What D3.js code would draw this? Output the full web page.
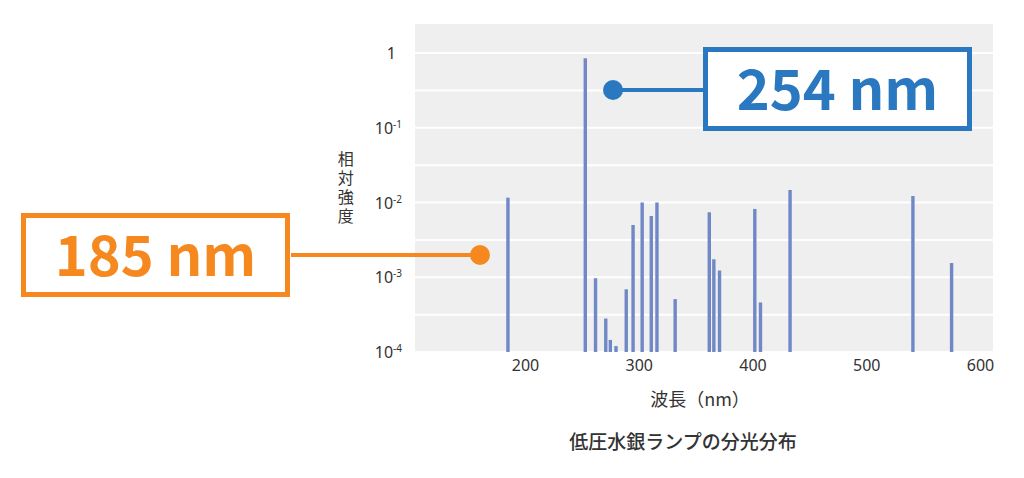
<!DOCTYPE html>
<html>
<head>
<meta charset="utf-8">
<script src="https://cdn.jsdelivr.net/npm/d3@7"></script>
<style>
  body { margin: 0; background: #fff; }
  svg { display: block; }
</style>
</head>
<body>
<div id="chart"></div>
<script>
// spectral lines (wavelength nm) and relative intensity
const wavelengths = [185, 253, 262, 271, 275, 280, 289, 295, 303, 311, 316, 332, 362, 366, 371, 402, 407, 433, 541, 575];
const intensities = [0.0116, 0.85, 0.00097, 0.00028, 0.000145, 0.00012, 0.00069, 0.005, 0.01, 0.0066, 0.01, 0.00051,
                     0.0074, 0.00174, 0.00123, 0.0082, 0.00046, 0.0147, 0.0122, 0.00155];
const xTicks = [200, 300, 400, 500, 600];
const yTickExps = [0, -1, -2, -3, -4];

const svgWidth = 1024;
const svgHeight = 478;

const plot = { left: 415, right: 993, top: 24, bottom: 352 };

const XScale = d3.scaleLinear([103.3, 611.4], [plot.left, plot.right]);
const YScale = d3.scaleLog([1e-4, 1], [plot.bottom, 53]);

const svg = d3.select("#chart")
  .append("svg")
  .attr("width", svgWidth)
  .attr("height", svgHeight);

// plot background
svg.append("rect")
  .attr("x", plot.left)
  .attr("y", plot.top)
  .attr("width", plot.right - plot.left)
  .attr("height", plot.bottom - plot.top)
  .attr("fill", "#efefef");

// gridlines every half decade
const gridVals = d3.range(-8, 1).map(k => Math.pow(10, k / 2));
svg.append("g")
  .selectAll("line")
  .data(gridVals)
  .enter()
  .append("line")
  .attr("x1", plot.left)
  .attr("x2", plot.right)
  .attr("y1", d => YScale(d))
  .attr("y2", d => YScale(d))
  .attr("stroke", "#ffffff")
  .attr("stroke-width", 2);

// bars
svg.append("g")
  .selectAll("rect")
  .data(wavelengths)
  .enter()
  .append("rect")
  .attr("x", d => XScale(d) - 1.7)
  .attr("y", (d, i) => YScale(intensities[i]))
  .attr("width", 3.4)
  .attr("height", (d, i) => plot.bottom - YScale(intensities[i]))
  .attr("fill", "#7088c6");

// y axis labels
const yLab = svg.append("g")
  .selectAll("text")
  .data(yTickExps)
  .enter()
  .append("text")
  .attr("x", d => d === 0 ? 396 : 402)
  .attr("y", d => YScale(Math.pow(10, d)) + 6)
  .attr("text-anchor", "end")
  .style("font-family", "'Noto Sans', sans-serif")
  .style("font-size", "16px")
  .style("fill", "#333");
yLab.each(function(d) {
  const t = d3.select(this);
  if (d === 0) {
    t.text("1");
  } else {
    t.append("tspan").text("10");
    t.append("tspan")
      .attr("dy", -6)
      .style("font-size", "10px")
      .text("-" + (-d));
  }
});

// x axis labels
const XAxis = d3.axisBottom(XScale).tickValues(xTicks).tickSize(0).tickPadding(8);
const gx = svg.append("g")
  .attr("transform", `translate(0,${plot.bottom})`)
  .call(XAxis);
gx.select(".domain").remove();
gx.selectAll("text")
  .style("font-family", "'Noto Sans', sans-serif")
  .style("font-size", "16px")
  .style("fill", "#333");

// y title, vertical
svg.append("text")
  .attr("x", 343)
  .attr("y", 189)
  .attr("text-anchor", "middle")
  .attr("dominant-baseline", "middle")
  .style("writing-mode", "vertical-rl")
  .style("letter-spacing", "3px")
  .style("font-family", "'Noto Sans CJK JP', sans-serif")
  .style("font-size", "16px")
  .style("fill", "#333")
  .text("相対強度");

// x title
svg.append("text")
  .attr("x", 700)
  .attr("y", 406)
  .attr("text-anchor", "middle")
  .style("font-family", "'Noto Sans CJK JP', sans-serif")
  .style("font-size", "18px")
  .style("fill", "#333")
  .text("波長（nm）");

// chart title
svg.append("text")
  .attr("x", 683)
  .attr("y", 449)
  .attr("text-anchor", "middle")
  .style("font-family", "'Noto Sans CJK JP', sans-serif")
  .style("font-size", "19px")
  .style("font-weight", "500")
  .style("fill", "#333")
  .text("低圧水銀ランプの分光分布");

// callouts
function callout(c) {
  const g = svg.append("g");
  g.append("line")
    .attr("x1", c.dotX).attr("y1", c.lineY)
    .attr("x2", c.lineEnd).attr("y2", c.lineY)
    .attr("stroke", c.color).attr("stroke-width", 4);
  g.append("circle")
    .attr("cx", c.dotX).attr("cy", c.lineY).attr("r", 10)
    .attr("fill", c.color);
  g.append("rect")
    .attr("x", c.box[0] + 2.5).attr("y", c.box[1] + 2.5)
    .attr("width", c.box[2] - c.box[0] - 5)
    .attr("height", c.box[3] - c.box[1] - 5)
    .attr("fill", "#fff")
    .attr("stroke", c.color).attr("stroke-width", 5);
  g.append("text")
    .attr("x", (c.box[0] + c.box[2]) / 2)
    .attr("y", (c.box[1] + c.box[3]) / 2 + 21)
    .attr("text-anchor", "middle")
    .style("font-family", "'Noto Sans CJK JP', sans-serif")
    .style("font-size", "56px")
    .style("font-weight", "bold")
    .style("fill", c.color)
    .text(c.label);
}

callout({ label: "254 nm", color: "#2a78c0", dotX: 613, lineY: 90, lineEnd: 704, box: [703, 47, 972, 131] });
callout({ label: "185 nm", color: "#f5891f", dotX: 480, lineY: 255, lineEnd: 291, box: [21, 213, 290, 297] });
</script>
</body>
</html>
